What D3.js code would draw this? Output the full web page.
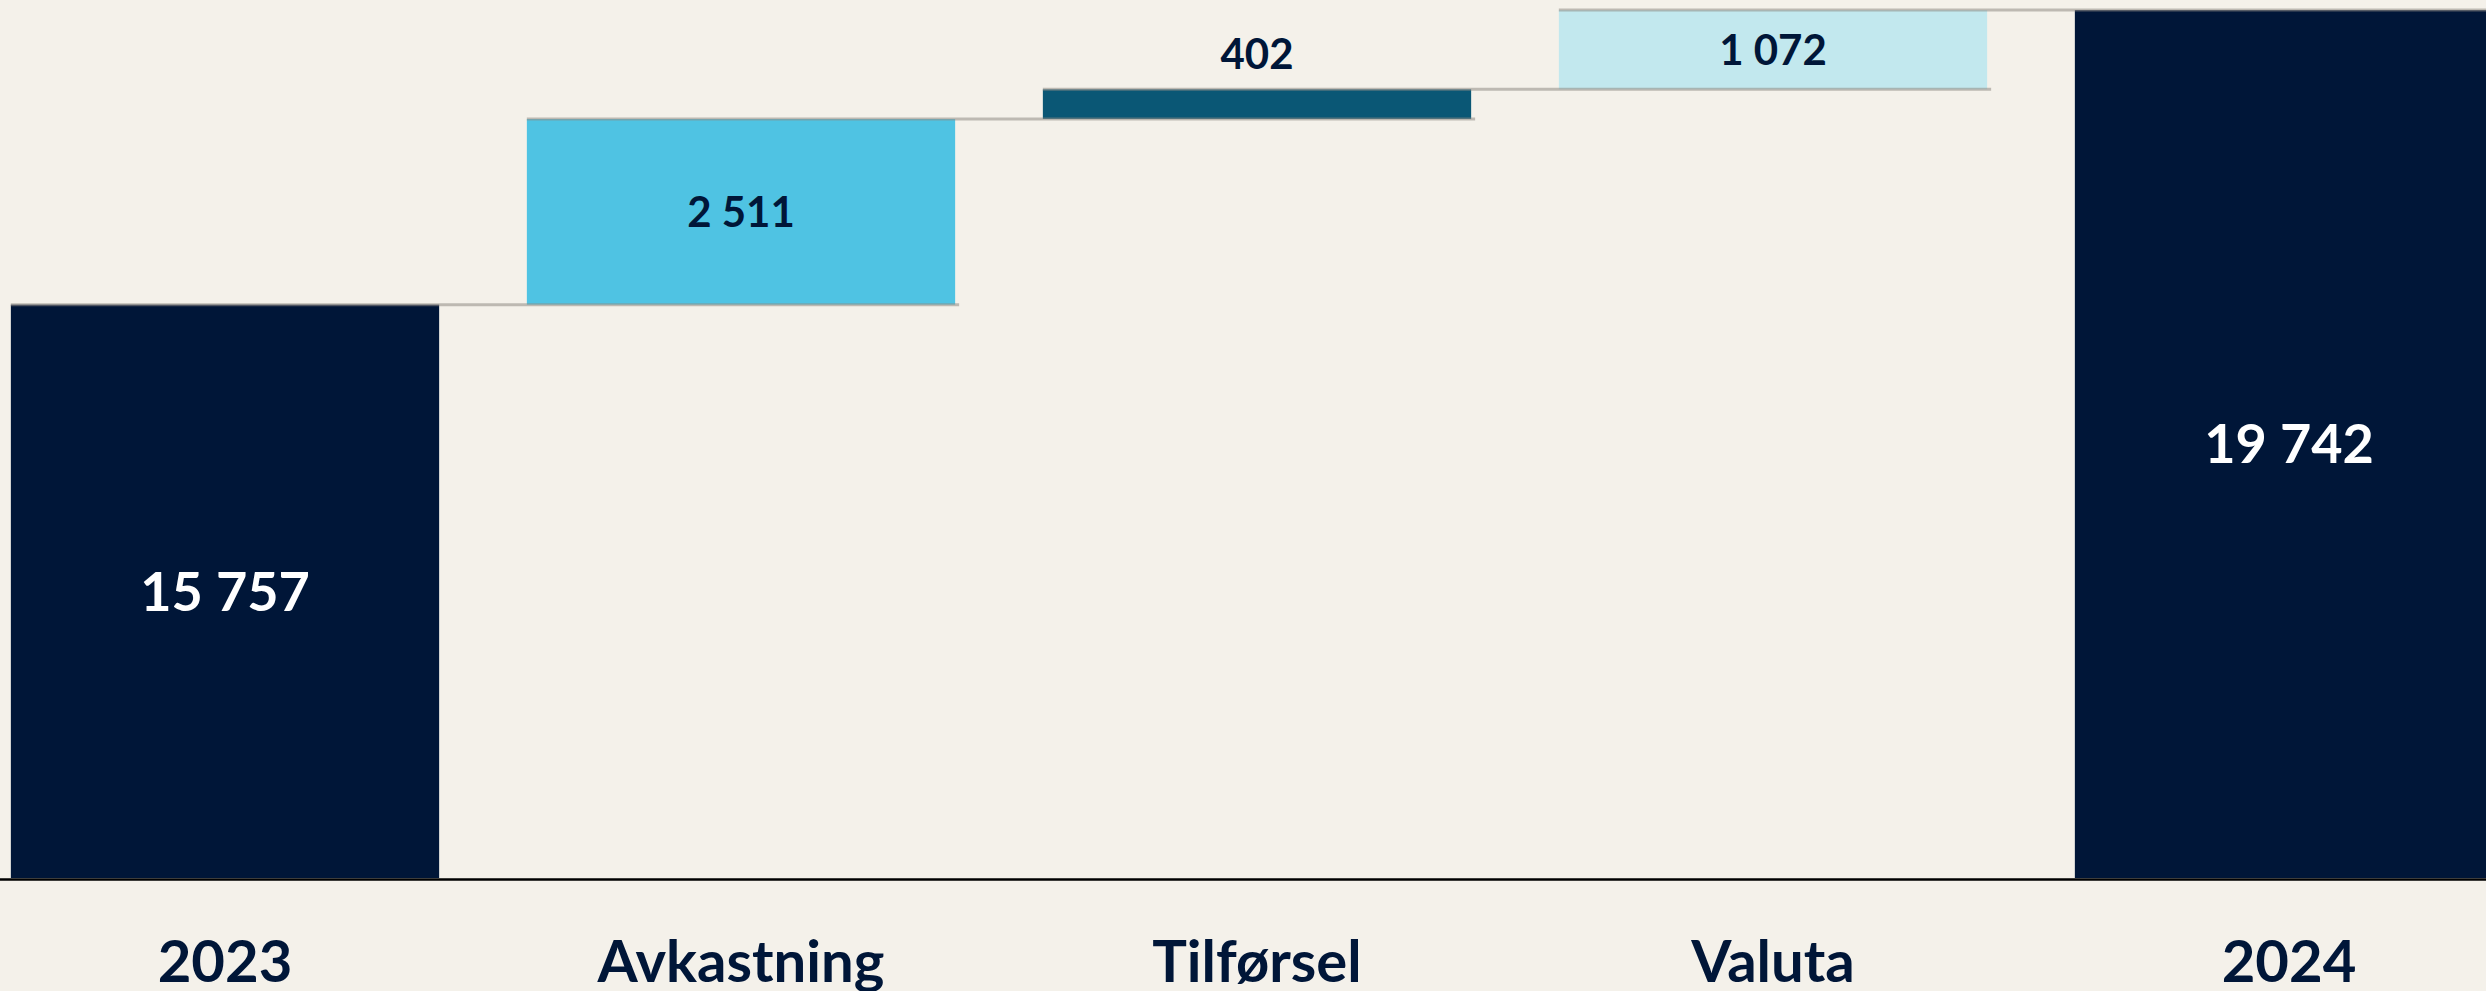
<!DOCTYPE html>
<html>
<head>
<meta charset="utf-8">
<script src="https://cdn.jsdelivr.net/npm/d3@7"></script>
<style>
  html, body { margin: 0; padding: 0; background: #f4f1ea; overflow: hidden; }
  svg { display: block; }
</style>
</head>
<body>
<div id="chart"></div>
<script>
// waterfall data
var categories = ["2023", "Avkastning", "Tilførsel", "Valuta", "2024"];
var values = [15757, 2511, 402, 1072, 19742];
var kinds = ["total", "delta", "delta", "delta", "total"];

var barColors = { "2023": "#001638", "Avkastning": "#4fc3e3", "Tilførsel": "#0a5775", "Valuta": "#c2e8ee", "2024": "#001638" };
var labelColors = { "2023": "#ffffff", "Avkastning": "#001638", "Tilførsel": "#001638", "Valuta": "#001638", "2024": "#ffffff" };

var width = 2486, height = 991;
var baseY = 878;

var nf = d3.formatLocale({ decimal: ",", thousands: " ", grouping: [3], currency: ["", ""] }).format(",d");

// running totals
var running = 0;
var bars = categories.map(function(c, i) {
  var b;
  if (kinds[i] == "total") {
    b = { name: c, start: 8000, end: values[i], value: values[i] };
    running = values[i];
  } else {
    b = { name: c, start: running, end: running + values[i], value: values[i] };
    running += values[i];
  }
  return b;
});

var x = d3.scaleBand()
  .domain(categories)
  .range([-33, 2547])
  .paddingInner(0.17)
  .paddingOuter(0.085);

var y = d3.scaleLinear()
  .domain([8000, 20000])
  .range([baseY, -9]);

var svg = d3.select("#chart").append("svg")
  .attr("width", width)
  .attr("height", height);

svg.append("rect").attr("width", width).attr("height", height).attr("fill", "#f4f1ea");

svg.selectAll(".bar")
  .data(bars)
  .enter().append("rect")
  .attr("class", "bar")
  .attr("x", function(d) { return x(d.name); })
  .attr("width", x.bandwidth())
  .attr("y", function(d) { return y(Math.max(d.start, d.end)); })
  .attr("height", function(d) { return Math.abs(y(d.start) - y(d.end)); })
  .attr("fill", function(d) { return barColors[d.name]; });

// connector lines between levels
var links = bars.slice(0, -1).map(function(d, i) {
  return { level: d.end, x1: x(d.name), x2: x(bars[i + 1].name) + x.bandwidth() + 4 };
});
svg.selectAll(".link")
  .data(links)
  .enter().append("line")
  .attr("x1", function(d) { return d.x1; })
  .attr("x2", function(d) { return d.x2; })
  .attr("y1", function(d) { return y(d.level); })
  .attr("y2", function(d) { return y(d.level); })
  .attr("stroke", "#8f8a83")
  .attr("stroke-opacity", 0.55)
  .attr("stroke-width", 3);

// baseline
svg.append("line")
  .attr("x1", 0).attr("x2", width)
  .attr("y1", baseY + 1.5).attr("y2", baseY + 1.5)
  .attr("stroke", "#000000")
  .attr("stroke-width", 2.5);

// value labels
svg.selectAll(".val")
  .data(bars)
  .enter().append("text")
  .attr("class", "val")
  .attr("x", function(d) { return x(d.name) + x.bandwidth() / 2; })
  .attr("y", function(d) {
    var top = y(Math.max(d.start, d.end)), bot = y(Math.min(d.start, d.end));
    if (bot - top < 50) return top - 20; // thin bar: put label above
    return (top + bot) / 2;
  })
  .attr("dy", function(d) { return Math.abs(y(d.start) - y(d.end)) < 50 ? "0" : "0.36em"; })
  .attr("text-anchor", "middle")
  .attr("font-family", "Lato, 'Open Sans', sans-serif")
  .attr("font-weight", "bold")
  .attr("font-size", function(d, i) { return kinds[i] == "total" ? "54px" : "42px"; })
  .attr("fill", function(d) {
    return Math.abs(y(d.start) - y(d.end)) < 50 ? "#001638" : labelColors[d.name];
  })
  .text(function(d) { return nf(d.value); });

// category labels
svg.selectAll(".cat")
  .data(categories)
  .enter().append("text")
  .attr("class", "cat")
  .attr("x", function(d) { return x(d) + x.bandwidth() / 2; })
  .attr("y", 982)
  .attr("text-anchor", "middle")
  .attr("font-family", "Lato, 'Open Sans', sans-serif")
  .attr("font-weight", "bold")
  .attr("font-size", "58px")
  .attr("fill", "#001638")
  .text(function(d) { return d; });
</script>
</body>
</html>
